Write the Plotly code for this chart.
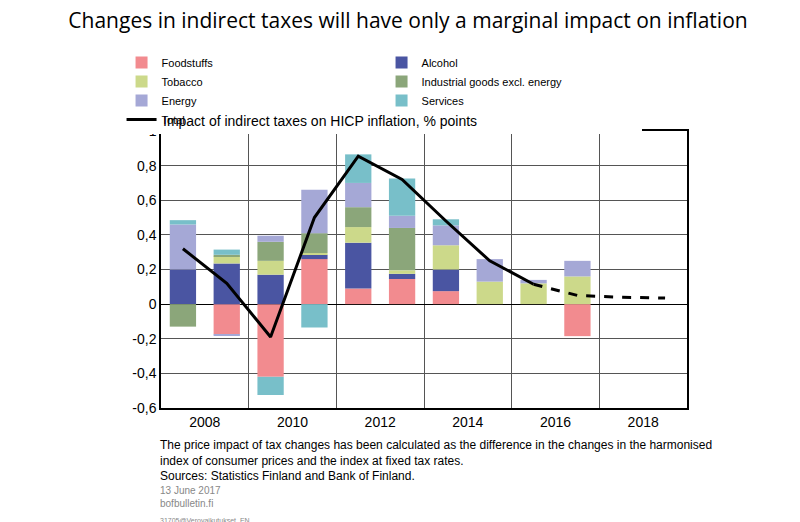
import plotly.graph_objects as go

years = list(range(2008, 2018))
foodstuffs = [0, -0.175, -0.42, 0.26, 0.09, 0.145, 0.075, 0, 0, -0.185]
alcohol = [0.2, 0.235, 0.17, 0.025, 0.265, 0.03, 0.125, 0, 0, 0]
tobacco = [0, 0.04, 0.08, 0.01, 0.09, 0.02, 0.14, 0.13, 0.12, 0.16]
industrial = [-0.13, 0.01, 0.11, 0.115, 0.115, 0.245, 0, 0, 0, 0]
energy = [0.26, -0.005, 0.035, 0.25, 0.14, 0.07, 0.115, 0.13, 0.02, 0.09]
services = [0.025, 0.03, -0.105, -0.135, 0.165, 0.215, 0.035, 0, 0, 0]

total_years = [2008, 2009, 2010, 2011, 2012, 2013, 2014, 2015, 2016]
total = [0.32, 0.12, -0.19, 0.5, 0.855, 0.72, 0.48, 0.25, 0.115]
fcst_years = [2016, 2017, 2018, 2019]
fcst = [0.115, 0.05, 0.04, 0.035]

y_ticks = [-0.6, -0.4, -0.2, 0, 0.2, 0.4, 0.6, 0.8, 1]
y_labels = ["-0,6", "-0,4", "-0,2", "0", "0,2", "0,4", "0,6", "0,8", "1"]

series = [
    ("Foodstuffs", foodstuffs, "#F28B8F"),
    ("Alcohol", alcohol, "#4A55A2"),
    ("Tobacco", tobacco, "#CCD98A"),
    ("Industrial goods excl. energy", industrial, "#8BA67A"),
    ("Energy", energy, "#A5A8D6"),
    ("Services", services, "#78BFC9"),
]

fig = go.Figure()
for name, vals, col in series:
    fig.add_bar(x=years, y=vals, name=name, marker_color=col, width=0.6,
                marker_line_width=0)
fig.add_scatter(x=total_years, y=total, name="Total", mode="lines",
                line=dict(color="black", width=3))
fig.add_scatter(x=fcst_years, y=fcst, mode="lines", showlegend=False,
                line=dict(color="black", width=3, dash="dash"))

fig.update_layout(
    width=800, height=522, barmode="relative",
    plot_bgcolor="white", paper_bgcolor="white",
    font=dict(family="Liberation Sans", size=14, color="black"),
    margin=dict(l=153, r=121, t=123, b=122),
    title=dict(text="Changes in indirect taxes will have only a marginal impact on inflation",
               x=0.5, y=0.99, xanchor="center", yanchor="top",
               font=dict(family="Open Sans", size=21)),
    legend=dict(orientation="h", x=-0.075, y=1.3, xanchor="left", yanchor="top",
                entrywidth=215, entrywidthmode="pixels", traceorder="normal",
                font=dict(size=11), tracegroupgap=0, itemwidth=30),
    showlegend=True,
)
fig.update_xaxes(range=[2007.5, 2019.5], tickvals=[2008.5, 2010.5, 2012.5, 2014.5, 2016.5, 2018.5],
                 ticktext=["2008", "2010", "2012", "2014", "2016", "2018"],
                 showgrid=False, ticks="", showline=True, mirror=True,
                 linecolor="black", linewidth=1.5,
                 minor=dict(tick0=2007.5, dtick=2, showgrid=True, gridcolor="#555", gridwidth=1))
fig.update_yaxes(range=[-0.6, 1], tickvals=y_ticks, ticktext=y_labels,
                 showgrid=True, gridcolor="#555", gridwidth=1,
                 zeroline=True, zerolinecolor="black", zerolinewidth=1,
                 showline=True, mirror=True, linecolor="black", linewidth=1.5, ticks="")

fig.add_annotation(text="Impact of indirect taxes on HICP inflation, % points", xref="paper", yref="paper",
                   x=0, y=1.0, xanchor="left", yanchor="bottom", showarrow=False, font=dict(size=14))
fig.add_annotation(text="The price impact of tax changes has been calculated as the difference in the changes in the harmonised<br>"
                        "index of consumer prices and the index at fixed tax rates.<br>Sources: Statistics Finland and Bank of Finland.",
                   xref="paper", yref="paper", x=-0.005, y=-0.1, xanchor="left", yanchor="top",
                   showarrow=False, align="left", font=dict(size=12))
fig.add_annotation(text="13 June 2017<br>bofbulletin.fi", xref="paper", yref="paper", x=-0.005, y=-0.27,
                   xanchor="left", yanchor="top", showarrow=False, align="left",
                   font=dict(size=10, color="#888"))
fig.add_annotation(text="31705@Verovaikutukset_EN", xref="paper", yref="paper", x=-0.005, y=-0.385,
                   xanchor="left", yanchor="top", showarrow=False, align="left",
                   font=dict(size=7, color="#888"))

fig.write_html("out.html")
